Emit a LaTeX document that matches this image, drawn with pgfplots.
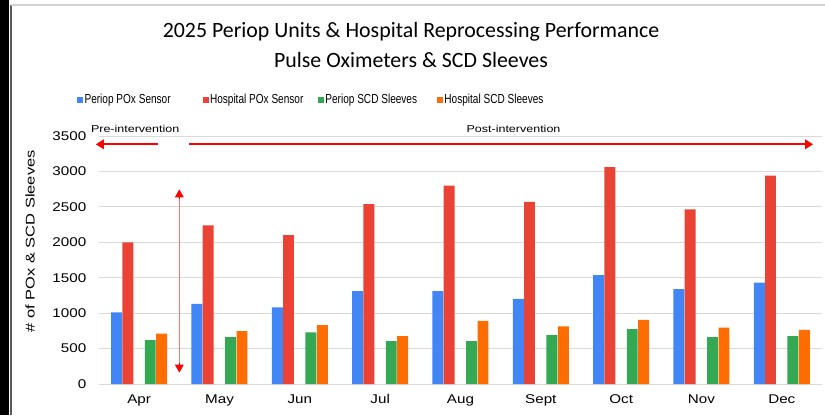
\documentclass[border=0pt]{standalone}
\usepackage{fontspec}
\setmainfont{Liberation Sans}
\newfontfamily\titlefont{Carlito}
\newfontfamily\tickfont[FakeStretch=1.2]{Liberation Sans}
\newfontfamily\ylabfont[FakeStretch=1.3]{Liberation Sans}
\newfontfamily\annfont[FakeStretch=1.25]{Liberation Sans}
\newfontfamily\legfont[FakeStretch=0.77]{Liberation Sans}
\usepackage{pgfplots}
\pgfplotsset{compat=1.18}
\usetikzlibrary{arrows.meta}
\definecolor{cblue}{HTML}{4285F4}
\definecolor{cred}{HTML}{EA4335}
\definecolor{cgreen}{HTML}{34A853}
\definecolor{corange}{HTML}{FF6D01}
\definecolor{gridc}{HTML}{D9D9D9}
\definecolor{pinkline}{rgb}{1,0.45,0.45}
\begin{document}
\begin{tikzpicture}
\useasboundingbox (-74.25pt,-23.25pt) rectangle (544.5pt,288pt);
\fill[black] (-74.25pt,-23.25pt) rectangle (-67.5pt,288pt);
\draw[gray!70!black, line width=1.2pt] (-66pt,-23.25pt) -- (-66pt,284.25pt);
\draw[gray!35, line width=1pt] (-66pt,284.25pt) -- (544.5pt,284.25pt);
\begin{axis}[
  scale only axis,
  width=542.25pt, height=186pt,
  xmin=-0.5, xmax=8.5,
  ymin=0, ymax=3500,
  xtick={0,1,2,3,4,5,6,7,8},
  xticklabels={Apr,May,Jun,Jul,Aug,Sept,Oct,Nov,Dec},
  ytick={0,500,1000,1500,2000,2500,3000,3500},
  /pgf/number format/assume math mode=true,
  /pgf/number format/1000 sep={},
  ymajorgrids,
  grid style={gridc, line width=0.75pt},
  axis line style={draw=none},
  major tick style={draw=none},
  tick label style={font=\tickfont\fontsize{9.5pt}{11pt}\selectfont},
  yticklabel style={xshift=-6pt},
  xticklabel style={yshift=-4.5pt},
  ylabel={\# of POx \& SCD Sleeves},
  every axis y label/.style={at={(rel axis cs:-0.0954,0.575)}, rotate=90, anchor=center, font=\ylabfont\fontsize{9.5pt}{11pt}\selectfont},
  clip=false,
  legend columns=4,
  legend style={draw=none, fill=none, at={(rel axis cs:-0.036,1.145)}, anchor=west,
    font=\legfont\fontsize{9.8pt}{11pt}\selectfont, nodes={inner xsep=1pt, inner ysep=1pt},
    /tikz/column 2/.style={column sep=23pt},
    /tikz/column 4/.style={column sep=10pt},
    /tikz/column 6/.style={column sep=14pt}},
  legend image code/.code={\fill[#1] (0pt,-2.25pt) rectangle (4.5pt,2.25pt);},
]
\addplot[ybar, bar width=8.2pt, bar shift=-16.9pt, fill=cblue, draw=none] coordinates {
 (0,1010) (1,1130) (2,1080) (3,1310) (4,1310) (5,1200) (6,1535) (7,1340) (8,1430)};
\addlegendentry{Periop POx Sensor}
\addplot[ybar, bar width=8.2pt, bar shift=-8.5pt, fill=cred, draw=none] coordinates {
 (0,2000) (1,2240) (2,2100) (3,2540) (4,2800) (5,2570) (6,3060) (7,2465) (8,2940)};
\addlegendentry{Hospital POx Sensor}
\addplot[ybar, bar width=8.2pt, bar shift=8.3pt, fill=cgreen, draw=none] coordinates {
 (0,620) (1,660) (2,730) (3,605) (4,605) (5,690) (6,775) (7,660) (8,675)};
\addlegendentry{Periop SCD Sleeves}
\addplot[ybar, bar width=8.2pt, bar shift=16.9pt, fill=corange, draw=none] coordinates {
 (0,710) (1,745) (2,830) (3,675) (4,890) (5,815) (6,905) (7,795) (8,765)};
\addlegendentry{Hospital SCD Sleeves}
% annotations
\node[font=\annfont\fontsize{7.5pt}{9pt}\selectfont] at (axis cs:-0.05,3600) {Pre-intervention};
\node[font=\annfont\fontsize{7.5pt}{9pt}\selectfont] at (axis cs:4.66,3600) {Post-intervention};
\draw[red, line width=1.5pt, -{Triangle[length=6pt,width=7pt]}] (axis cs:0.24,3383) -- (axis cs:-0.54,3383);
\draw[red, line width=1.5pt, -{Triangle[length=6pt,width=7pt]}] (axis cs:0.62,3383) -- (axis cs:8.39,3383);
\draw[pinkline, line width=1.1pt] (axis cs:0.5,2640) -- (axis cs:0.5,260);
\draw[red, line width=0.8pt, -{Triangle[length=6pt,width=6.5pt]}] (axis cs:0.5,2610) -- (axis cs:0.5,2747);
\draw[red, line width=0.8pt, -{Triangle[length=6pt,width=6.5pt]}] (axis cs:0.5,297) -- (axis cs:0.5,160);
\end{axis}
\node[font=\titlefont\fontsize{16.4pt}{19pt}\selectfont] at (234pt,264pt) {2025 Periop Units \& Hospital Reprocessing Performance};
\node[font=\titlefont\fontsize{16.4pt}{19pt}\selectfont] at (234pt,243pt) {Pulse Oximeters \& SCD Sleeves};
\end{tikzpicture}
\end{document}
